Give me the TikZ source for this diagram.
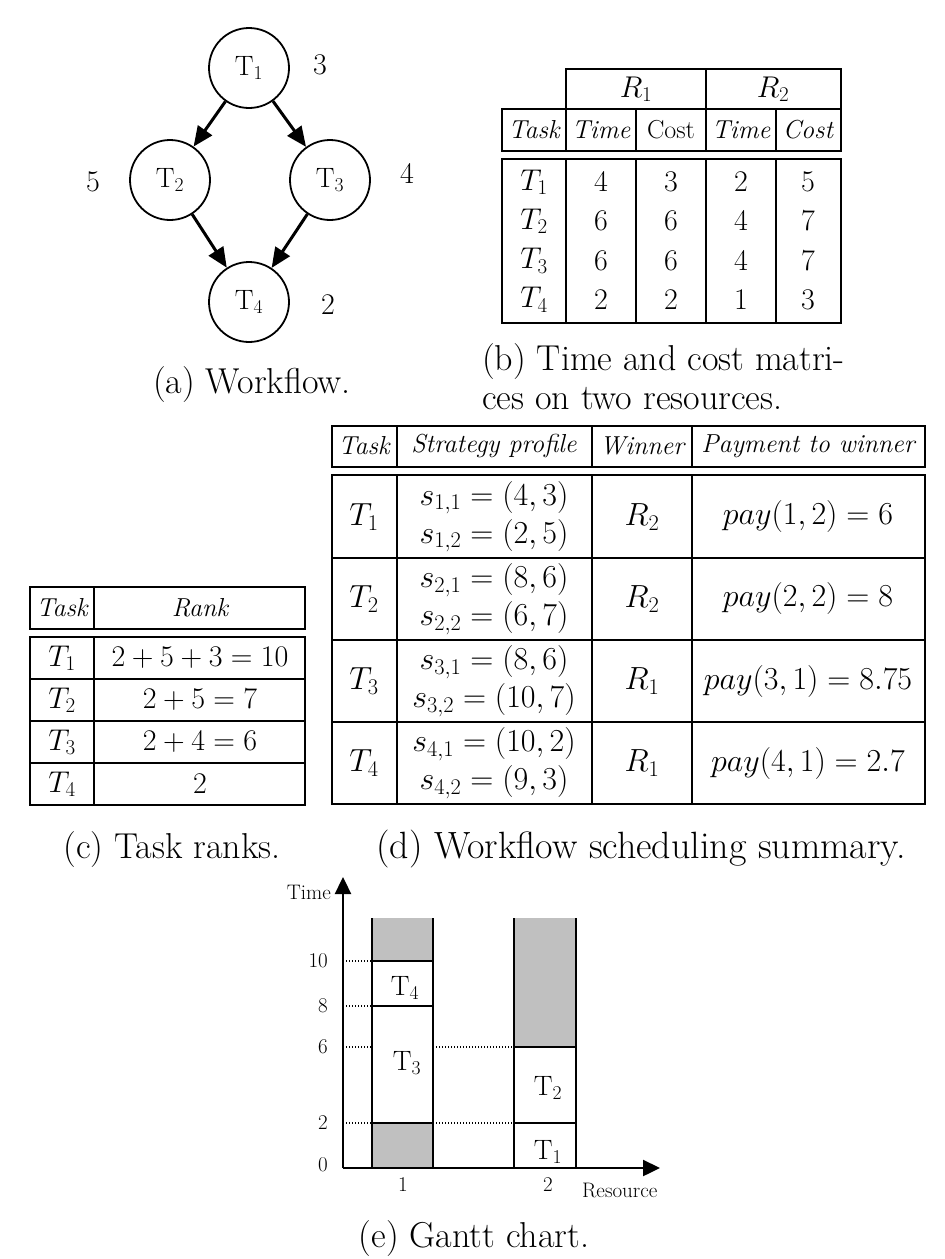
\documentclass[tikz,border=0pt]{standalone}
\usepackage{fix-cm}
\usepackage{fontspec}
\usetikzlibrary{arrows.meta}
\definecolor{ganttgray}{RGB}{192,192,192}

\begin{document}
\begin{tikzpicture}[x=1pt,y=-1pt]
        \tikzstyle{every node}=[inner sep=0pt]
        \tikzstyle{task}=[draw,circle,line width=1.8pt,minimum size=80pt,font=\fontsize{28}{30}\selectfont]
        \tikzstyle{weight}=[font=\fontsize{30}{32}\selectfont]
        \tikzstyle{dep}=[line width=3pt,-{Triangle[length=20pt,width=17pt]}]
        \tikzstyle{rule}=[line width=1.4pt]
        \tikzstyle{head}=[font=\fontsize{26}{30}\selectfont\itshape]
        \tikzstyle{cell}=[font=\fontsize{30}{36}\selectfont]
        \tikzstyle{bigcell}=[font=\fontsize{32}{36}\selectfont]
        \tikzstyle{caption}=[font=\fontsize{36}{40}\selectfont]
        \tikzstyle{ticklabel}=[font=\fontsize{21}{24}\selectfont]
        \tikzstyle{barline}=[line width=1.6pt]
        \tikzstyle{guide}=[line width=1.2pt,dash pattern=on 1.4pt off 1.6pt]
        \tikzstyle{chartaxis}=[line width=2.4pt,-{Triangle[length=17pt,width=16pt]}]
        \useasboundingbox (0,0) rectangle (945,1259);
        % (a) workflow
        \node[task] (t1) at (249,68) {T\textsubscript{1}};
        \node[task] (t2) at (170,180) {T\textsubscript{2}};
        \node[task] (t3) at (330,180) {T\textsubscript{3}};
        \node[task] (t4) at (249,302) {T\textsubscript{4}};
        \node[weight] (w1) at (320,65) {3};
        \node[weight] (w2) at (93,182) {5};
        \node[weight] (w3) at (407,173) {4};
        \node[weight] (w4) at (328,305) {2};
        \foreach \a/\b in {t1/t2,t1/t3,t2/t4,t3/t4} \draw[dep] (\a) -- (\b);
        \node[caption,anchor=base] (cap-a) at (252,393) {(a) Workflow.};
        % (b) time and cost matrices
        \draw[rule] (566,151) -- (566,69) -- (841,69) -- (841,151) (706,69) -- (706,151);
        \draw[rule] (502,109) rectangle (841,151) (636,109) -- (636,151) (776,109) -- (776,151);
        \draw[rule] (502,159) rectangle (841,323);
        \foreach \x in {566,636,706,776} \draw[rule] (\x,159) -- (\x,323);
        \node[cell] (b-r1) at (636,89) {$R_1$};
        \node[cell] (b-r2) at (773,89) {$R_2$};
        \node[head] (b-task) at (534,130) {Task};
        \node[head] (b-time1) at (601,130) {Time};
        \node[head] (b-cost1) at (671,130) {\upshape Cost};
        \node[head] (b-time2) at (741,130) {Time};
        \node[head] (b-cost2) at (808,130) {Cost};
        \foreach \tk/\ta/\ca/\tb/\cb [count=\r] in {1/4/3/2/5,2/6/6/4/7,3/6/6/4/7,4/2/2/1/3} {
            \node[cell] (b-t\r) at (534,{142.7+39.3*\r}) {$T_{\tk}$};
            \node[cell] (b-ta\r) at (601,{142.7+39.3*\r}) {$\ta$};
            \node[cell] (b-ca\r) at (671,{142.7+39.3*\r}) {$\ca$};
            \node[cell] (b-tb\r) at (741,{142.7+39.3*\r}) {$\tb$};
            \node[cell] (b-cb\r) at (808,{142.7+39.3*\r}) {$\cb$};
        }
        \node[caption,anchor=base west] (cap-b1) at (482,370) {(b) Time and cost matri-};
        \node[caption,anchor=base west] (cap-b2) at (482,409) {ces on two resources.};
        % (c) task ranks
        \draw[rule] (30,587) rectangle (305,629) (94,587) -- (94,629);
        \draw[rule] (30,637) rectangle (305,805) (94,637) -- (94,805);
        \foreach \y in {679,721,763} \draw[rule] (30,\y) -- (305,\y);
        \node[head] (c-task) at (62,608) {Task};
        \node[head] (c-rank) at (200,608) {Rank};
        \foreach \tk/\rk [count=\r] in {1/{2+5+3=10},2/{2+5=7},3/{2+4=6},4/2} {
            \node[cell] (c-t\r) at (62,{616+42*\r}) {$T_{\tk}$};
            \node[cell] (c-rk\r) at (200,{616+42*\r}) {$\rk$};
        }
        \node[caption,anchor=base] (cap-c) at (172,858) {(c) Task ranks.};
        % (d) scheduling summary
        \draw[rule] (332,426) rectangle (925,467);
        \draw[rule] (332,475) rectangle (925,804);
        \foreach \x in {397,592,692} \draw[rule] (\x,426) -- (\x,467) (\x,475) -- (\x,804);
        \foreach \y in {558,640,722} \draw[rule] (332,\y) -- (925,\y);
        \node[head] (d-task) at (364,446) {Task};
        \node[head] (d-profile) at (494,446) {Strategy profile};
        \node[head] (d-winner) at (642,446) {Winner};
        \node[head] (d-pay) at (808,446) {Payment to winner};
        \foreach \tk/\sa/\sb/\win/\pay [count=\r] in {1/{(4,3)}/{(2,5)}/2/{(1,2)=6},2/{(8,6)}/{(6,7)}/2/{(2,2)=8},3/{(8,6)}/{(10,7)}/1/{(3,1)=8.75},4/{(10,2)}/{(9,3)}/1/{(4,1)=2.7}} {
            \node[bigcell] (d-t\r) at (364,{434.5+82.2*\r}) {$T_{\tk}$};
            \node[bigcell] (d-sa\r) at (494,{415.5+82.2*\r}) {$s_{\tk,1}=\sa$};
            \node[bigcell] (d-sb\r) at (494,{453.5+82.2*\r}) {$s_{\tk,2}=\sb$};
            \node[bigcell] (d-w\r) at (642,{434.5+82.2*\r}) {$R_{\win}$};
            \node[bigcell] (d-p\r) at (808,{434.5+82.2*\r}) {$pay\pay$};
        }
        \node[caption,font=\fontsize{38}{40}\selectfont,anchor=base] (cap-d) at (641,858) {(d) Workflow scheduling summary.};
        % (e) gantt chart
        \fill[ganttgray] (372,918) rectangle (433,961) (372,1123) rectangle (433,1168);
        \fill[ganttgray] (514,918) rectangle (576,1047);
        \draw[barline] (372,918) -- (372,1168) (433,918) -- (433,1168) (514,918) -- (514,1168) (576,918) -- (576,1168);
        \foreach \y in {961,1006,1123} \draw[barline] (372,\y) -- (433,\y);
        \foreach \y in {1047,1123} \draw[barline] (514,\y) -- (576,\y);
        \foreach \y in {961,1006,1047,1123} \draw[guide] (343,\y) -- (372,\y);
        \foreach \y in {1047,1123} \draw[guide] (433,\y) -- (514,\y);
        \coordinate (origin) at (343,1168);
        \coordinate (ytip) at (343,877);
        \coordinate (xtip) at (660,1168);
        \draw[chartaxis] (origin) -- (ytip);
        \draw[chartaxis] (origin) -- (xtip);
        \node[ticklabel,anchor=east] (time) at (331,892) {Time};
        \foreach \y/\t in {961/10,1006/8,1047/6,1123/2,1165/0} \node[ticklabel,anchor=east] (tick\t) at (328,\y) {\t};
        \node[ticklabel] (res1) at (403,1185) {1};
        \node[ticklabel] (res2) at (548,1185) {2};
        \node[ticklabel,anchor=west] (resource) at (582,1190) {Resource};
        \node[task,draw=none] (g4) at (405,988) {T\textsubscript{4}};
        \node[task,draw=none] (g3) at (407,1063) {T\textsubscript{3}};
        \node[task,draw=none] (g2) at (548,1088) {T\textsubscript{2}};
        \node[task,draw=none] (g1) at (548,1152) {T\textsubscript{1}};
        \node[caption,anchor=base] (cap-e) at (474,1247) {(e) Gantt chart.};
    \end{tikzpicture}
\end{document}
